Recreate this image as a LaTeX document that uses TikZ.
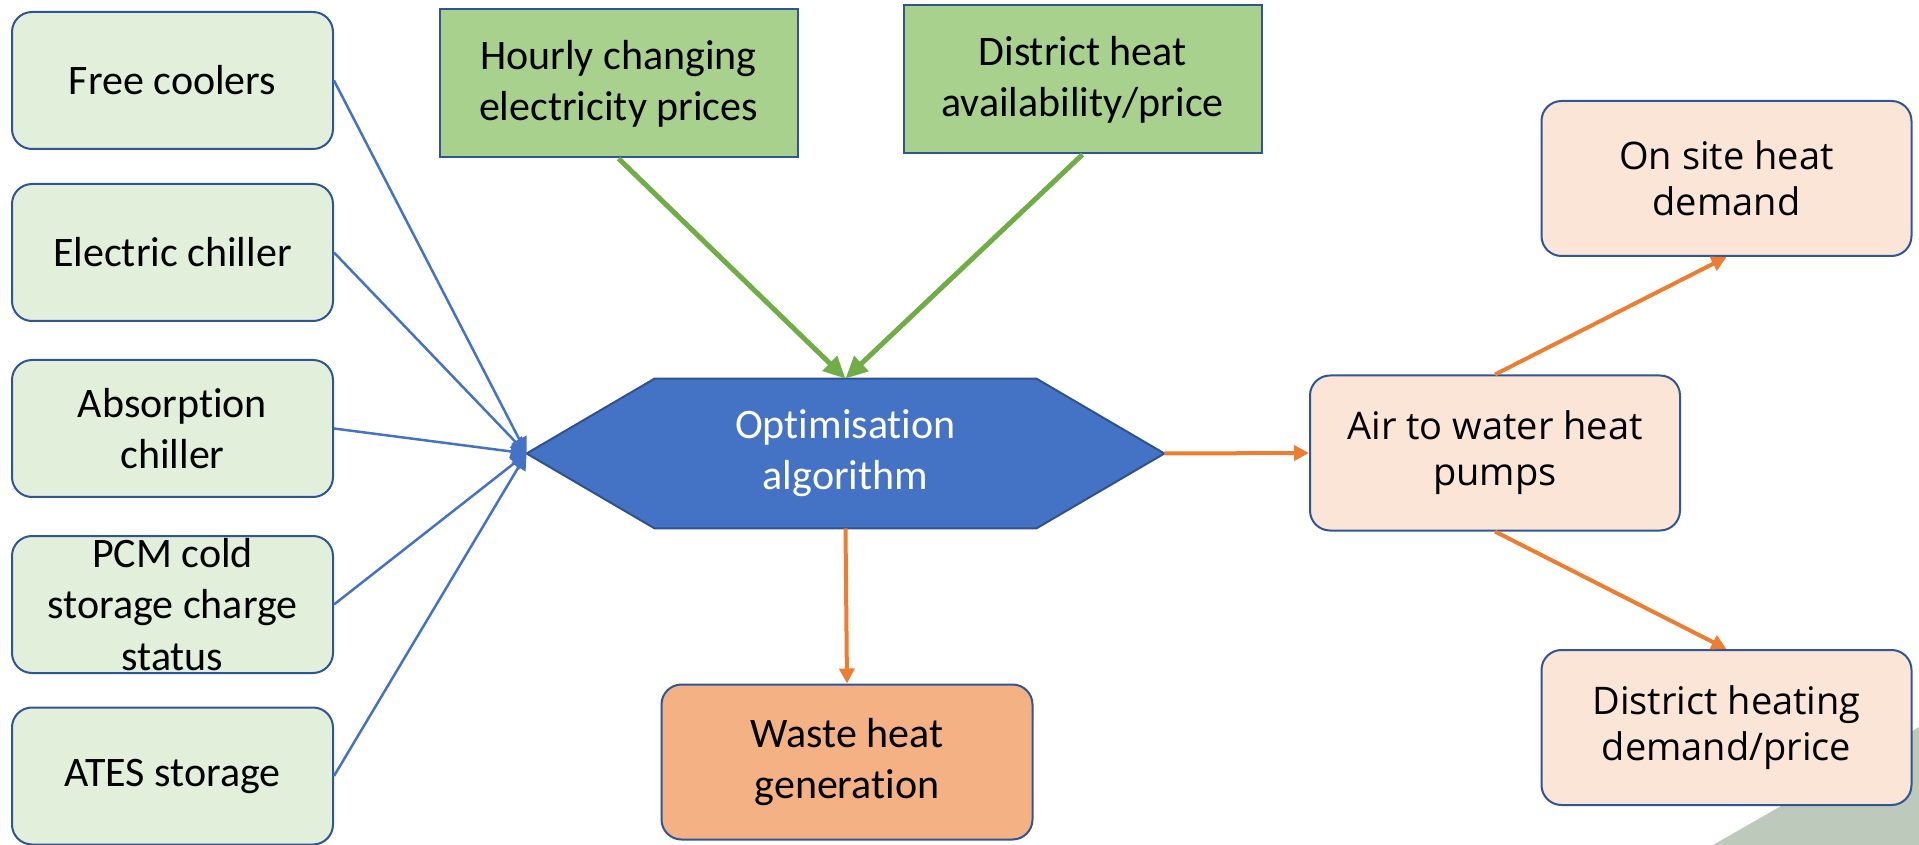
\documentclass[tikz,border=0pt]{standalone}
\usepackage{fontspec}
\setmainfont{Carlito}[RawFeature={-liga;-clig;-calt;-dlig}]
\newfontfamily\wideface{Open Sans}
\usetikzlibrary{arrows.meta,calc}

\definecolor{boxline}{HTML}{2F5597}
\definecolor{coolfill}{HTML}{E2EFDA}
\definecolor{marketfill}{HTML}{A9D18E}
\definecolor{algofill}{HTML}{4472C4}
\definecolor{algoline}{HTML}{2F528F}
\definecolor{wastefill}{HTML}{F4B183}
\definecolor{heatfill}{HTML}{FBE5D6}
\definecolor{bluearrow}{HTML}{4472C4}
\definecolor{greenarrow}{HTML}{70AD47}
\definecolor{orangearrow}{HTML}{ED7D31}
\definecolor{corner}{HTML}{BDC9BA}

\begin{document}
\begin{tikzpicture}[x=0.5pt,y=-0.5pt]

    % Layers:
    \pgfdeclarelayer{background}
    \pgfsetlayers{background,main}

    % Styles:
    \tikzstyle{element}=[draw=boxline, line width=1pt, text centered, align=center,
    inner sep=0pt, font=\fontsize{21}{25.6}\selectfont]
    \tikzstyle{cooling}=[element, fill=coolfill, rounded corners=10pt,
    minimum width=160.5pt, minimum height=68.5pt]
    \tikzstyle{market}=[element, fill=marketfill, minimum width=179pt, minimum height=74pt]
    \tikzstyle{waste}=[element, fill=wastefill, rounded corners=10pt,
    minimum width=185.5pt, minimum height=77.5pt]
    \tikzstyle{heat}=[element, fill=heatfill, rounded corners=10pt,
    minimum width=185pt, minimum height=77.5pt, font=\wideface\fontsize{19}{23}\selectfont]
    \tikzstyle{algo}=[text=white, text centered, align=center, inner sep=0pt,
    minimum width=190.5pt, minimum height=74.5pt, font=\fontsize{21}{25.6}\selectfont]
    \tikzstyle{coolarrow}=[draw, line width=1.25pt, color=bluearrow,
    -{Triangle[length=8pt,width=8pt]}]
    \tikzstyle{pricearrow}=[draw, line width=2.5pt, color=greenarrow,
    -{Triangle[length=11pt,width=10pt]}]
    \tikzstyle{heatarrow}=[draw, line width=2pt, color=orangearrow,
    -{Triangle[length=7.5pt,width=7.5pt]}]

    \newcommand{\sysbox}[3]{node (n#1) [#3] {#2}}

    \useasboundingbox (0,0) rectangle (1919,845);

    % Cooling units:
    \path (172.5,80.5) \sysbox{free}{Free coolers}{cooling};
    \path (nfree)+(0,172) \sysbox{elec}{Electric chiller}{cooling};
    \path (nelec)+(0,176) \sysbox{abs}{Absorption\\chiller}{cooling};
    \path (nabs)+(0,176) \sysbox{pcm}{PCM cold\\storage charge\\status}{cooling};
    \path (npcm)+(0,171.5) \sysbox{ates}{ATES storage}{cooling};

    % Prices:
    \path (618.5,83.5) \sysbox{hour}{Hourly changing\\electricity prices}{market};
    \path (nhour)+(464,-4) \sysbox{dist}{District heat\\availability/price}{market};

    % Algorithm:
    \node (opt) [algo] at (845.5,453.5) {Optimisation\\algorithm};
    \coordinate (optw) at ($(opt.west)+(-128,0)$);
    \coordinate (opte) at ($(opt.east)+(128,0)$);

    \path (opt)+(1.5,308.5) \sysbox{waste}{Waste heat\\generation}{waste};

    % Heat side:
    \path (1495,453) \sysbox{air}{Air to water heat\\pumps}{heat};
    \path (nair)+(231.5,-274.5) \sysbox{site}{On site heat\\demand}{heat};
    \path (nair)+(231.5,274.5) \sysbox{dh}{District heating\\demand/price}{heat};

    % Background:
    \begin{pgfonlayer}{background}
        \path[fill=corner] (1713,845) -- (1919,727) -- (1919,845) -- cycle;
        \path[fill=algofill, draw=algoline, line width=1pt]
        (opt.north west) -- (opt.north east) -- (opte) -- (opt.south east)
        -- (opt.south west) -- (optw) -- cycle;
    \end{pgfonlayer}

    % Arrows:
    \path [coolarrow] (nfree.east) -- (optw);
    \path [coolarrow] (nelec.east) -- (optw);
    \path [coolarrow] (nabs.east) -- (optw);
    \path [coolarrow] (npcm.east) -- (optw);
    \path [coolarrow] (nates.east) -- (optw);

    \path [pricearrow] (nhour.south) -- (opt.north);
    \path [pricearrow] (ndist.south) -- (opt.north);

    \path [heatarrow] (opte) -- (nair.west);
    \path [heatarrow] (opt.south) -- (nwaste.north);
    \path [heatarrow] (nair.north) -- (nsite.south);
    \path [heatarrow] (nair.south) -- (ndh.north);
\end{tikzpicture}
\end{document}
